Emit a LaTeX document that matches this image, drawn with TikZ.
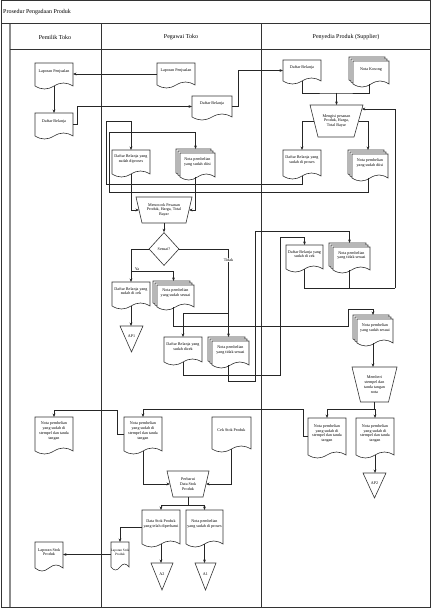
\documentclass[tikz,border=0pt]{standalone}
\usepackage{fontspec}
\setmainfont{Liberation Serif}
\usetikzlibrary{calc,arrows.meta,shapes.geometric}

\tikzset{
  ln/.style={line width=0.6pt, draw=black!85},
  arr/.style={ln, -{Stealth[length=3.5pt,width=2.8pt]}},
  frame/.style={line width=1pt, draw=black!80},
  grayline/.style={line width=1.3pt, draw=black!45},
  shp/.style={line width=0.6pt, draw=black!80, fill=white},
  txt/.style={font=\fontsize{4.1}{4.8}\selectfont, align=center, inner sep=0pt},
  stxt/.style={font=\fontsize{3.4}{4}\selectfont, align=center, inner sep=0pt},
  hdr/.style={font=\fontsize{6}{7}\selectfont, inner sep=0pt},
  anch/.style={inner sep=0pt, outer sep=0pt, draw=none},
  lbl/.style={font=\fontsize{4.1}{4.8}\selectfont, inner sep=0.6pt, fill=white},
}

% one page with wavy bottom
\newcommand\pg[4]{%
  \draw[shp] ({#1},{#2}) -- ({#3},{#2}) -- ({#3},{#4})
    .. controls ({(#3)-0.18*((#3)-(#1))},{(#4)-4}) and ({(#3)-0.32*((#3)-(#1))},{(#4)-4}) .. ({((#1)+(#3))/2},{#4})
    .. controls ({(#1)+0.32*((#3)-(#1))},{(#4)+4}) and ({(#1)+0.18*((#3)-(#1))},{(#4)+4}) .. ({#1},{#4}) -- cycle;}

% document: name, x1, y1, x2, y2, text
\newcommand\docu[6]{%
  \pg{#2}{#3}{#4}{#5}
  \node[anch, minimum width={(#4-#2)*1pt}, minimum height={(#5-#3)*1pt}] (#1) at ({(#2+#4)/2},{(#3+#5)/2}) {};
  \node[txt] (#1t) at ({(#2+#4)/2},{(#3+#5)/2-3}) {#6};}

% multiple documents: name, x1, y1 (back top-left), x2, y2 (front bottom-right), text
\newcommand\mdoc[6]{%
  \pg{#2}{#3}{#4-4}{#5-4}
  \pg{#2+2}{#3+2}{#4-2}{#5-2}
  \pg{#2+4}{#3+4}{#4}{#5}
  \node[anch, minimum width={(#4-#2)*1pt}, minimum height={(#5-#3)*1pt}] (#1) at ({(#2+#4)/2},{(#3+#5)/2}) {};
  \node[txt] (#1t) at ({(#2+4+#4)/2},{(#3+4+#5)/2-3}) {#6};}

% manual operation: name, xtl, xtr, ytop, xbl, xbr, ybot, text
\newcommand\trap[8]{%
  \draw[shp] (#2,#4) -- (#3,#4) -- (#6,#7) -- (#5,#7) -- cycle;
  \node[anch, minimum width={((#3-#2)+(#6-#5))/2*1pt}, minimum height={(#7-#4)*1pt}] (#1) at ({(#2+#3)/2},{(#4+#7)/2}) {};
  \node[txt] (#1t) at (#1) {#8};}

% off-page connector: name, x1, x2, ytop, yapex, text
\newcommand\offp[6]{%
  \draw[shp] (#2,#4) -- (#3,#4) -- ({(#2+#3)/2},#5) -- cycle;
  \node[anch, minimum width={(#3-#2)*1pt}, minimum height={(#5-#4)*1pt}] (#1) at ({(#2+#3)/2},{(#4+#5)/2}) {};
  \node[txt] (#1t) at ({(#2+#3)/2},{#4+(#5-#4)*0.4}) {#6};}

\begin{document}
\begin{tikzpicture}[x=1pt,y=-1pt]
\useasboundingbox (0,0) rectangle (432,612);
\fill[white] (0,0) rectangle (432,612);

% ---------- frame and lanes ----------
\draw[frame] (1,1) rectangle (430,607);
\draw[frame] (1,24) -- (430,24);
\draw[grayline] (10,24) -- (10,607);
\draw[frame] (10,50) -- (430,50);
\draw[frame] (101.5,24) -- (101.5,607);
\draw[frame] (261.5,24) -- (261.5,607);

\node[hdr, anchor=west] (title) at (3,12) {Prosedur Pengadaan Produk};
\node[hdr] (hPemilik) at (55,37) {Pemilik Toko};
\node[hdr] (hPegawai) at (181,37) {Pegawai Toko};
\node[hdr] (hSupplier) at (346,37) {Penyedia Produk (Supplier)};

% ---------- shapes ----------
\docu{lpP}{35}{63}{73}{86}{Laporan Penjualan}
\docu{dbP}{35}{113}{73}{136}{Daftar Belanja}
\docu{lpG}{157}{63}{195}{85}{Laporan Penjualan}
\docu{dbG}{192}{96}{232}{117}{Daftar Belanja}
\docu{dbS}{283}{60}{321}{81}{Daftar Belanja}
\mdoc{nkS}{349}{57}{389}{84}{Nota Kosong}
\trap{mpS}{310}{363}{105}{318}{354}{137}{Mengisi pesanan\\Produk, Harga,\\Total Bayar}
\docu{dbpS}{283}{150}{321}{176}{Daftar Belanja yang\\sudah di proses}
\mdoc{nbS}{348}{150}{388}{178}{Nota pembelian\\yang sudah diisi}
\docu{dbpG}{112}{150}{150}{174}{Daftar Belanja yang\\sudah diproses}
\mdoc{nbG}{176}{149}{215}{177}{Nota pembelian\\yang sudah diisi}
\trap{mcG}{136}{192}{197}{142}{186}{223}{Mencocok Pesanan\\Produk, Harga, Total\\Bayar}
\node[shp, diamond, minimum width=30pt, minimum height=33pt, inner sep=0pt, font=\fontsize{4.1}{4.8}\selectfont] (sesuai) at (164,249) {Sesuai?};
\docu{dbcG}{112}{282}{150}{306}{Daftar Belanja yang\\sudah di cek}
\mdoc{nbsG}{153}{281}{194}{307}{Nota pembelian\\yang sudah sesuai}
\offp{apA}{120}{143}{326}{352}{AP1}
\docu{dbdG}{164}{337}{202}{362}{Daftar Belanja yang\\sudah dicek}
\mdoc{nbtG}{208}{337}{249}{365}{Nota pembelian\\yang tidak sesuai}
\docu{dbcS}{286}{245}{323}{269}{Daftar Belanja yang\\sudah di cek}
\mdoc{nbtS}{329}{243}{370}{270}{Nota pembelian\\yang tidak sesuai}
\mdoc{nbssS}{353}{315}{393}{343}{Nota pembelian\\yang sudah sesuai}
\trap{msS}{352}{397}{367}{360.5}{388.5}{402}{Memberi\\stempel dan\\tanda tangan\\nota}
\docu{stSa}{308}{418}{346}{455}{Nota pembelian\\yang sudah di\\stempel dan tanda\\tangan}
\docu{stSb}{356}{418}{394}{455}{Nota pembelian\\yang sudah di\\stempel dan tanda\\tangan}
\offp{apB}{363}{386}{473}{498}{AP2}
\docu{stG}{124}{417}{162}{451}{Nota pembelian\\yang sudah di\\stempel dan tanda\\tangan}
\docu{stP}{35}{417}{73}{451}{Nota pembelian\\yang sudah di\\stempel dan tanda\\tangan}
\docu{csG}{212}{417}{251}{449}{Cek Stok Produk}
\trap{pdG}{167}{209}{471}{173}{203}{497}{Perbarui\\Data Stok\\Produk}
\docu{dsG}{142}{510}{180}{544}{Data Stok Produk\\yang telah diperbarui}
\docu{npG}{186}{510}{223}{544}{Nota pembelian\\yang sudah di proses}
\offp{aB}{151}{173}{563}{590}{A2}
\offp{aA}{195}{216}{563}{590}{A1}
\pg{111}{542}{129}{567}
\node[anch, minimum width=18pt, minimum height=25pt] (lsG) at (120,554.5) {};
\node[stxt] (lsGt) at (120,552) {Laporan Stok\\Produk};
\docu{lsP}{35}{542}{63}{568}{Laporan Stok\\Produk}

% ---------- connectors ----------
\draw[arr] (lpG.west) -- (lpG.west -| lpP.east);
\draw[arr] (lpP.south) -- (lpP.south |- dbP.north);
\draw[arr] (dbP.east) -- ++(4,0) |- (dbG.west);
\draw[arr] (dbG.east) -- ++(6,0) |- (dbS.west);

\coordinate (j1) at (336.5,93);
\draw[ln] (dbS.south) |- (j1) -| (nkS.south);
\draw[arr] (j1) -- (j1 |- mpS.north);
\draw[arr] (mpS.west) -| (dbpS.north);
\draw[arr] (mpS.east) -| (nbS.north);

\coordinate (c1) at (106,184);
\coordinate (c2) at (106,121);
\draw[arr] (dbpS.south) |- (c1) -- (c2) -| (dbpG.north);
\coordinate (c3) at (109,192);
\coordinate (c4) at (109,132);
\draw[arr] (nbS.south) |- (c3) -- (c4) -| (nbG.north);

\draw[arr] (dbpG.south) |- (mcG.west);
\draw[arr] (nbG.south) |- (mcG.east);
\draw[arr] (mcG.south) -- (sesuai.north);

\draw[arr] (sesuai.west) -| (dbcG.north);
\coordinate (yb) at (131,271);
\draw[arr] (yb) -| (nbsG.north);
\node[lbl, fill=none] (ya) at (137,269.5) {Ya};
\draw[arr] (sesuai.east) -| (nbtG.north);
\coordinate (tb) at (228.5,313);
\draw[arr] (tb) -| (dbdG.north);
\node[lbl] (tidak) at (228.5,260) {Tidak};

\draw[arr] (dbcG.south) -- (dbcG.south |- apA.north);

\coordinate (r1) at (348,326);
\coordinate (r2) at (348,309);
\draw[arr] (nbsG.south) |- (r1) -- (r2) -| (nbssS.north);

\coordinate (s1) at (280,375);
\coordinate (s2) at (280,237);
\draw[arr] (dbdG.south) |- (s1) -- (s2) -| (dbcS.north);

\coordinate (t1) at (255,381);
\coordinate (t2) at (255,231);
\draw[arr] (nbtG.south) |- (t1) -- (t2) -| (nbtS.north);

\coordinate (f1) at (395,288);
\coordinate (f2) at (395,109);
\coordinate (f3) at (361.8,109);
\draw[ln] (dbcS.south) |- (f1);
\draw[ln] (nbtS.south) -- (nbtS.south |- f1);
\draw[arr] (f1) -- (f2) -- (f3);

\draw[arr] (nbssS.south) -- (nbssS.south |- msS.north);
\coordinate (m1) at (374.5,409);
\draw[ln] (msS.south) -- (m1);
\draw[arr] (m1) -| (stSa.north);
\draw[arr] (m1) -| (stSb.north);
\draw[arr] (stSb.south) -- (stSb.south |- apB.north);

\coordinate (n1) at (303,409);
\draw[arr] (stSa.west) -| (n1) -| (stG.north);
\coordinate (p1) at (117,410);
\draw[arr] (stG.west) -| (p1) -| (stP.north);

\draw[arr] (stG.south) |- (pdG.west);
\draw[arr] (csG.south) |- (pdG.east);
\coordinate (q1) at (188,505);
\draw[ln] (pdG.south) -- (q1);
\draw[arr] (q1) -| (dsG.north);
\draw[arr] (q1) -| (npG.north);
\draw[arr] (dsG.south) -- (dsG.south |- aB.north);
\draw[arr] (npG.south) -- (npG.south |- aA.north);
\draw[arr] (dsG.west) -| (lsG.north);
\draw[arr] (lsG.west) -- (lsG.west -| lsP.east);
\end{tikzpicture}
\end{document}
